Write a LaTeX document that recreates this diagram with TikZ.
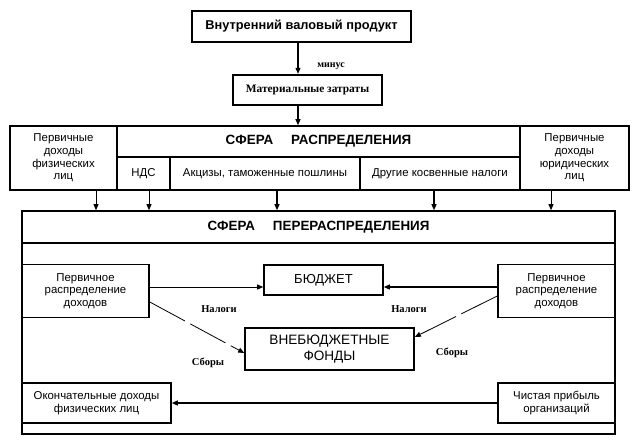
\documentclass[tikz,border=0pt]{standalone}
\usepackage{fontspec}
\setmainfont{Liberation Sans}
\newfontfamily\serifbold{Liberation Serif}
\usetikzlibrary{arrows.meta}
\tikzset{
  box/.style={draw, line width=1.6pt, inner sep=1pt, align=center, font=\fontsize{11.4}{12.6}\selectfont},
  arr/.style={-{Triangle[length=6pt,width=5pt]}, line width=1.2pt},
  thinarr/.style={-{Triangle[length=6pt,width=5pt]}, line width=0.8pt},
  dasharr/.style={-{Triangle[length=6pt,width=5pt]}, line width=0.8pt, dash pattern=on 40pt off 6pt},
  lbl/.style={font=\serifbold\bfseries\fontsize{10.5}{11}\selectfont, inner sep=1pt},
  head/.style={font=\bfseries\fontsize{13.4}{15}\selectfont}
}
\begin{document}
\begin{tikzpicture}[x=1pt,y=-1pt]
\useasboundingbox (0,0) rectangle (636,447);
% top
\node[box, minimum width=219pt, minimum height=31pt, font=\bfseries\fontsize{12.8}{14}\selectfont] (top) at (301.5,26.5) {Внутренний валовый продукт};
\node[box, line width=2.4pt, minimum width=149pt, minimum height=30pt, font=\serifbold\bfseries\fontsize{11.4}{13}\selectfont] (mat) at (307.5,90) {Материальные затраты};
\node[lbl, font=\serifbold\bfseries\fontsize{10}{11}\selectfont] (minus) at (331,66) {минус};
\coordinate (ax) at (298,0);
\draw[arr] (ax |- top.south) -- (ax |- mat.north);
% distribution
\node[box, minimum width=107pt, minimum height=64pt] (pl) at (63.5,158) {Первичные\\доходы\\физических\\лиц};
\node[box, head, minimum width=403pt, minimum height=31pt] (sr) at (318.5,141.5) {СФЕРА\hspace{18pt}РАСПРЕДЕЛЕНИЯ};
\node[box, minimum width=53pt, minimum height=33pt] (nds) at (143.5,173.5) {НДС};
\node[box, minimum width=190pt, minimum height=33pt] (akc) at (265,173.5) {Акцизы, таможенные пошлины};
\node[box, minimum width=160pt, minimum height=33pt] (dr) at (440,173.5) {Другие косвенные налоги};
\node[box, minimum width=109pt, minimum height=64pt] (pr) at (574.5,158) {Первичные\\доходы\\юридических\\лиц};
\draw[arr] (ax |- mat.south) -- (ax |- sr.north);
% redistribution
\node[box, head, minimum width=593pt, minimum height=32pt] (srr) at (318.5,227) {СФЕРА\hspace{18pt}ПЕРЕРАСПРЕДЕЛЕНИЯ};
\node[box, minimum width=593pt, minimum height=191pt] (body) at (318.5,338.5) {};
\coordinate (c1) at (96,0);
\coordinate (c2) at (149,0);
\coordinate (c3) at (277,0);
\coordinate (c4) at (434,0);
\coordinate (c5) at (551,0);
\draw[thinarr] (c1 |- pl.south) -- (c1 |- srr.north);
\draw[thinarr] (c2 |- nds.south) -- (c2 |- srr.north);
\draw[arr] (c3 |- akc.south) -- (c3 |- srr.north);
\draw[arr] (c4 |- dr.south) -- (c4 |- srr.north);
\draw[thinarr] (c5 |- pr.south) -- (c5 |- srr.north);
% inner
\node[box, minimum width=127pt, minimum height=53pt] (ppl) at (85.5,291) {Первичное\\распределение\\доходов};
\node[box, minimum width=117pt, minimum height=53pt] (ppr) at (556.5,291) {Первичное\\распределение\\доходов};
\node[box, minimum width=119pt, minimum height=30pt, font=\fontsize{13}{15}\selectfont] (bud) at (323.5,280) {БЮДЖЕТ};
\node[box, minimum width=169pt, minimum height=42pt, font=\fontsize{13.6}{16}\selectfont] (fond) at (329.5,349) {ВНЕБЮДЖЕТНЫЕ\\ФОНДЫ};
\node[box, minimum width=149pt, minimum height=40pt] (okl) at (96.5,403) {Окончательные доходы\\физических лиц};
\node[box, minimum width=117pt, minimum height=40pt] (chp) at (556.5,403) {Чистая прибыль\\организаций};
\coordinate (yb) at (0,287);
\draw[thinarr] (ppl.east |- yb) -- (bud.west |- yb);
\draw[arr] (ppr.west |- yb) -- (bud.east |- yb);
\draw[dasharr] (ppl.east |- 0,302) -- (fond.west |- 0,353);
\draw[dasharr] (ppr.west |- 0,296) -- (fond.east |- 0,337);
\draw[arr] (chp.west) -- (okl.east);
\node[lbl] (n1) at (219,309) {Налоги};
\node[lbl] (n2) at (409,309) {Налоги};
\node[lbl] (s1) at (208,363) {Сборы};
\node[lbl] (s2) at (452,353) {Сборы};
\end{tikzpicture}
\end{document}
